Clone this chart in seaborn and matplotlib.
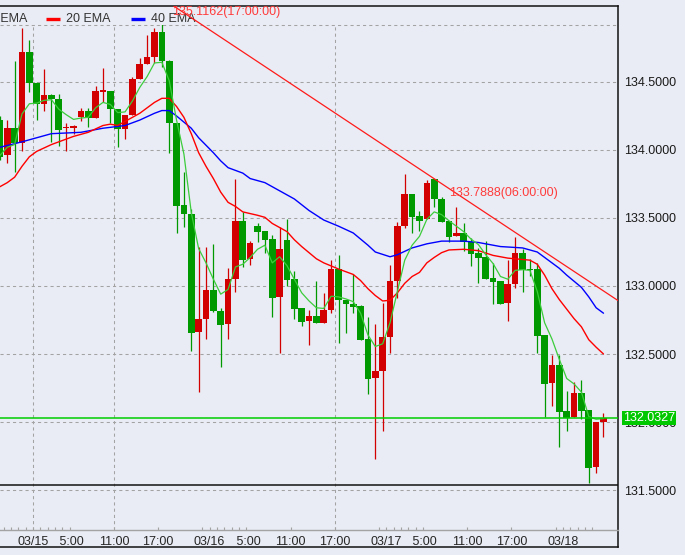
import numpy as np
import pandas as pd
import matplotlib
matplotlib.use("Agg")
import matplotlib.pyplot as plt
import matplotlib.transforms as mtransforms
from matplotlib.patches import Rectangle
import seaborn as sns

# ---------------- data (hourly candles, hour 0 = 03/15 00:00) ----------------
hours = list(range(-5, 78))
opens = [134.22, 133.963, 134.164, 134.049, 134.723, 134.495, 134.338, 134.404, 134.375, 134.16,
         134.165, 134.245, 134.287, 134.233, 134.43, 134.436, 134.30, 134.155, 134.257, 134.522,
         134.632, 134.686, 134.87, 134.654, 134.196, 133.596, 133.527, 132.664, 132.757, 132.97,
         132.816, 132.718, 133.05, 133.478, 133.199, 133.44, 133.404, 133.345, 132.92, 133.338,
         133.05, 132.836, 132.74, 132.78, 132.73, 132.824, 133.125, 132.90, 132.868, 132.853,
         132.61, 132.326, 132.377, 132.627, 133.037, 133.443, 133.676, 133.515, 133.49, 133.787,
         133.64, 133.478, 133.37, 133.39, 133.326, 133.24, 133.216, 133.06, 133.037, 132.877,
         133.015, 133.245, 133.125, 133.123, 132.64, 132.284, 132.42, 132.08, 132.04, 132.215,
         132.088, 131.67, 132.0]
closes = [133.95, 134.164, 134.049, 134.723, 134.495, 134.338, 134.404, 134.375, 134.147, 134.17,
          134.18, 134.287, 134.233, 134.436, 134.436, 134.30, 134.152, 134.257, 134.522, 134.632,
          134.686, 134.87, 134.654, 134.196, 133.59, 133.527, 132.657, 132.755, 132.97, 132.816,
          132.71, 133.05, 133.478, 133.19, 133.314, 133.40, 133.338, 132.914, 133.27, 133.044,
          132.83, 132.737, 132.78, 132.726, 132.824, 133.125, 132.897, 132.865, 132.848, 132.603,
          132.318, 132.375, 132.623, 133.037, 133.443, 133.676, 133.51, 133.478, 133.76, 133.637,
          133.473, 133.363, 133.392, 133.326, 133.235, 133.208, 133.05, 133.03, 132.868, 133.015,
          133.24, 133.118, 133.118, 132.635, 132.277, 132.42, 132.076, 132.032, 132.215, 132.081,
          131.664, 132.0, 132.0327]
highs = [134.25, 134.22, 134.654, 134.895, 134.81, 134.50, 134.593, 134.41, 134.41, 134.20,
         134.185, 134.31, 134.31, 134.47, 134.60, 134.436, 134.30, 134.257, 134.539, 134.68,
         134.846, 134.895, 135.1162, 134.66, 134.196, 133.84, 133.564, 133.29, 133.29, 133.31,
         132.84, 133.13, 133.787, 133.546, 133.33, 133.465, 133.404, 133.375, 133.436, 133.49,
         133.11, 132.836, 132.824, 133.037, 132.946, 133.19, 133.228, 132.90, 133.086, 132.86,
         132.77, 132.718, 132.877, 133.154, 133.473, 133.824, 133.676, 133.55, 133.78, 133.7888,
         133.657, 133.478, 133.58, 133.465, 133.35, 133.277, 133.333, 133.17, 133.037, 133.19,
         133.358, 133.27, 133.20, 133.167, 132.64, 132.49, 132.49, 132.228, 132.296, 132.31,
         132.09, 132.0, 132.064]
lows = [133.93, 133.907, 133.84, 133.99, 134.43, 134.22, 134.29, 134.061, 134.03, 133.99,
        134.12, 134.215, 134.17, 134.233, 134.355, 134.20, 134.02, 134.08, 134.257, 134.52,
        134.632, 134.64, 134.61, 133.98, 133.392, 133.436, 132.522, 132.223, 132.61, 132.81,
        132.407, 132.61, 132.958, 133.137, 133.154, 133.326, 133.24, 132.774, 132.51, 133.0,
        132.76, 132.708, 132.566, 132.726, 132.726, 132.80, 132.58, 132.657, 132.80, 132.603,
        132.206, 131.728, 131.936, 132.505, 132.91, 133.43, 133.387, 133.404, 133.49, 133.583,
        133.47, 133.326, 133.37, 133.257, 133.147, 133.024, 133.05, 132.868, 132.868, 132.745,
        132.987, 132.954, 133.07, 132.505, 132.039, 132.12, 131.818, 131.934, 132.04, 132.02,
        131.554, 131.627, 131.89]

ema5 = [133.96, 134.02, 134.04, 134.265, 134.34, 134.345, 134.365, 134.37, 134.30, 134.26,
        134.225, 134.235, 134.24, 134.31, 134.35, 134.335, 134.275, 134.28, 134.36, 134.46,
        134.54, 134.64, 134.645, 134.51, 134.22, 133.97, 133.54, 133.275, 133.17, 133.05,
        132.94, 132.975, 133.14, 133.16, 133.21, 133.27, 133.30, 133.17, 133.215, 133.15,
        133.05, 132.95, 132.89, 132.84, 132.835, 132.925, 132.92, 132.905, 132.885, 132.80,
        132.64, 132.555, 132.575, 132.73, 132.96, 133.19, 133.30, 133.365, 133.49, 133.545,
        133.525, 133.48, 133.44, 133.40, 133.345, 133.305, 133.23, 133.165, 133.07, 133.05,
        133.115, 133.12, 133.115, 132.96, 132.73, 132.61, 132.46, 132.32, 132.28, 132.22,
        132.04, 132.02, 132.025]

ema20_hours = [-5, -4, -3, -2, -1, 0, 2, 3, 5, 7, 9, 10, 11, 13, 14, 15, 16, 17, 18, 19,
               20, 21, 22, 23, 24, 25, 26, 27, 28, 30, 31, 32, 34, 35, 36, 38, 39, 41, 43, 44,
               45, 46, 47, 48, 49, 50, 51, 52, 53, 54, 55, 56, 58, 60, 62, 64, 66, 67, 68, 69,
               70, 71, 72, 73, 74, 75, 76, 77]
ema20_vals = [133.73, 133.76, 133.80, 133.88, 133.95, 133.99, 134.04, 134.06, 134.10, 134.13,
              134.18, 134.19, 134.18, 134.24, 134.27, 134.31, 134.35, 134.38, 134.38, 134.32,
              134.24, 134.12, 133.98, 133.88, 133.79, 133.69, 133.615, 133.585, 133.545, 133.52,
              133.505, 133.46, 133.40, 133.34, 133.29, 133.20, 133.17, 133.125, 133.085, 133.04,
              132.98, 132.93, 132.89, 132.895, 132.95, 133.02, 133.07, 133.10, 133.17, 133.21,
              133.245, 133.265, 133.27, 133.26, 133.225, 133.205, 133.195, 133.19, 133.16, 133.08,
              132.98, 132.90, 132.83, 132.76, 132.70, 132.605, 132.55, 132.50]

ema40_hours = [-5, -2, 2, 6, 9, 12, 14, 16, 17, 18, 19, 21, 22, 24, 25, 26, 28, 29, 31, 33,
               35, 37, 39, 41, 43, 45, 46, 48, 49, 51, 53, 55, 58, 60, 63, 66, 68, 70, 71, 72,
               74, 75, 76, 77]
ema40_vals = [134.02, 134.06, 134.12, 134.13, 134.16, 134.18, 134.22, 134.27, 134.29, 134.29,
              134.25, 134.16, 134.09, 133.98, 133.92, 133.87, 133.83, 133.79, 133.76, 133.70,
              133.64, 133.555, 133.485, 133.44, 133.39, 133.30, 133.25, 133.215, 133.23, 133.28,
              133.31, 133.33, 133.33, 133.32, 133.29, 133.28, 133.25, 133.17, 133.13, 133.08,
              132.99, 132.92, 132.84, 132.80]

trend_hours = [17, 54]
trend_vals = [135.1162, 133.7888]
trend_labels = ["135.1162(17:00:00)", "133.7888(06:00:00)"]
last_price = 132.0327
low_line = 131.535
top_grid = 134.919

ytick_vals = [134.5, 134.0, 133.5, 133.0, 132.5, 132.0, 131.5]
xtick_hours = [0, 5, 11, 17, 24, 29, 35, 41, 48, 53, 59, 65, 72]
xtick_labels = ["03/15", " 5:00", "11:00", "17:00", "03/16", " 5:00", "11:00", "17:00",
                "03/17", " 5:00", "11:00", "17:00", "03/18"]
minor_hours = [-4, -3, -2, -1, 0, 1, 2, 3, 4, 11, 17, 23, 24, 25, 26, 27, 28, 35, 41,
               47, 48, 49, 50, 51, 52, 53, 59, 65, 71, 72, 73, 74, 75, 76]
vgrid_hours = [0, 11, 41]
legend_names = ["5 EMA", "20 EMA", "40 EMA"]

# ---------------- style ----------------
BG = "#e9ecf4"
UP = "#d20000"
DOWN = "#009a00"
C_EMA5 = "#3ccc3c"
C_EMA20 = "#ff0000"
C_EMA40 = "#0000ff"
GRID = "#a3a3a3"

sns.set_theme(style="white", rc={"axes.facecolor": BG, "figure.facecolor": BG})
plt.rcParams["font.family"] = ["Liberation Sans", "DejaVu Sans"]

W, H = 685, 555
fig = plt.figure(figsize=(W / 100, H / 100), dpi=100, facecolor=BG)
L, R, T, B_ax, B_fr = 0, 618, 6, 530, 547
ax_fr = fig.add_axes([L / W, 1 - B_fr / H, (R - L) / W, (B_fr - T) / H])
ax_fr.set_facecolor(BG)
ax_fr.set_xticks([]); ax_fr.set_yticks([])
for s in ["top", "right", "bottom"]:
    ax_fr.spines[s].set_color("#111111"); ax_fr.spines[s].set_linewidth(1.1)
ax_fr.spines["left"].set_visible(False)

ax = fig.add_axes([L / W, 1 - B_ax / H, (R - L) / W, (B_ax - T) / H])
ax.patch.set_visible(False)
xlim = (-4.986, 78.97)
ylim = (131.2059, 135.0588)
ax.set_xlim(*xlim); ax.set_ylim(*ylim)
for s in ["top", "right", "left"]:
    ax.spines[s].set_visible(False)
ax.spines["bottom"].set_color(GRID); ax.spines["bottom"].set_linewidth(1.0)

# grid
for v in ytick_vals + [top_grid]:
    ax.axhline(v, color=GRID, lw=0.75, ls=(0, (3, 3)), zorder=1)
ax.vlines([h - 0.5 for h in vgrid_hours], ylim[0], top_grid, color=GRID, lw=0.75,
          ls=(0, (3, 3)), zorder=1)

# candles
df = pd.DataFrame({"h": hours, "o": opens, "c": closes, "hi": highs, "lo": lows})
df["up"] = df["c"] >= df["o"]
df["col"] = np.where(df["up"], UP, DOWN)
df["bot"] = df[["o", "c"]].min(axis=1)
df["ht"] = (df["c"] - df["o"]).abs().clip(lower=0.008)
clip = Rectangle((xlim[0], ylim[0]), xlim[1] - xlim[0], top_grid - ylim[0], transform=ax.transData)
wicks = ax.vlines(df["h"], df["lo"], df["hi"], colors=df["col"], lw=0.9, zorder=3)
wicks.set_clip_path(clip)
bars = ax.bar(df["h"], df["ht"], bottom=df["bot"], width=0.9, color=df["col"], linewidth=0, zorder=4)
for b in bars:
    b.set_clip_path(clip)

# EMAs
sns.lineplot(x=ema40_hours, y=ema40_vals, color=C_EMA40, lw=1.0, ax=ax, zorder=5)
sns.lineplot(x=ema20_hours, y=ema20_vals, color=C_EMA20, lw=1.0, ax=ax, zorder=5)
sns.lineplot(x=hours, y=ema5, color=C_EMA5, lw=0.9, ax=ax, zorder=6)

# trend line + labels
ax.axline((trend_hours[0], trend_vals[0]), (trend_hours[1], trend_vals[1]), color="#ff1a1a",
          lw=0.9, zorder=6)
ax.annotate(trend_labels[0], xy=(trend_hours[0], trend_vals[0]), xytext=(7.3, -10),
            textcoords="offset points", ha="left", va="center", color="#ff3b3b",
            fontsize=9, annotation_clip=False, zorder=7)
ax.annotate(trend_labels[1], xy=(trend_hours[1], trend_vals[1]), xytext=(10.6, -10.3),
            textcoords="offset points", ha="left", va="center", color="#ff3b3b",
            fontsize=9, zorder=7)

# price lines
ax.axhline(last_price, color="#00cc00", lw=1.1, zorder=6)
ax.axhline(low_line, color="#111111", lw=1.1, zorder=6)

# y axis on right
ax.yaxis.tick_right()
ax.set_yticks(ytick_vals)
ax.set_yticklabels([f"{v:.4f}" for v in ytick_vals])
ax.tick_params(axis="y", length=0, pad=4.2, labelsize=9, labelcolor="#1a1a1a")
blend = mtransforms.blended_transform_factory(ax.transAxes, ax.transData)
ax.annotate(f"{last_price:.4f}", xy=(1, last_price), xycoords=blend, xytext=(3.6, 0),
            textcoords="offset points", ha="left", va="center", color="white", fontsize=9,
            bbox=dict(boxstyle="square,pad=0.08", fc="#00c800", ec="none"),
            annotation_clip=False, zorder=10)

# x axis
ax.set_xticks([h - 0.5 for h in xtick_hours])
ax.set_xticklabels(xtick_labels)
ax.set_xticks([h - 0.5 for h in minor_hours], minor=True)
ax.tick_params(axis="x", which="both", direction="in", length=2.3, width=0.8, color=GRID,
               pad=4.4, labelsize=9, labelcolor="#262626", bottom=True)
ax.set_xlabel(""); ax.set_ylabel("")

# legend (manual, first entry partly cut by the left edge)
ly = (B_ax - 18.5) / (B_ax - T)
ax.text(-10.4 / (R - L), ly, legend_names[0], transform=ax.transAxes, ha="left", va="center",
        fontsize=9, color="#333333")
for (x0, x1, tx), name, col in zip([(46, 60, 65.7), (131, 145, 150.7)], legend_names[1:],
                                   [C_EMA20, C_EMA40]):
    ax.plot([x0 / (R - L), x1 / (R - L)], [ly, ly], transform=ax.transAxes, color=col,
            lw=2.4, solid_capstyle="butt", clip_on=False, zorder=8)
    ax.text(tx / (R - L), ly, name, transform=ax.transAxes, ha="left", va="center",
            fontsize=9, color="#333333")

fig.savefig("out.png", dpi=100, facecolor=BG)
